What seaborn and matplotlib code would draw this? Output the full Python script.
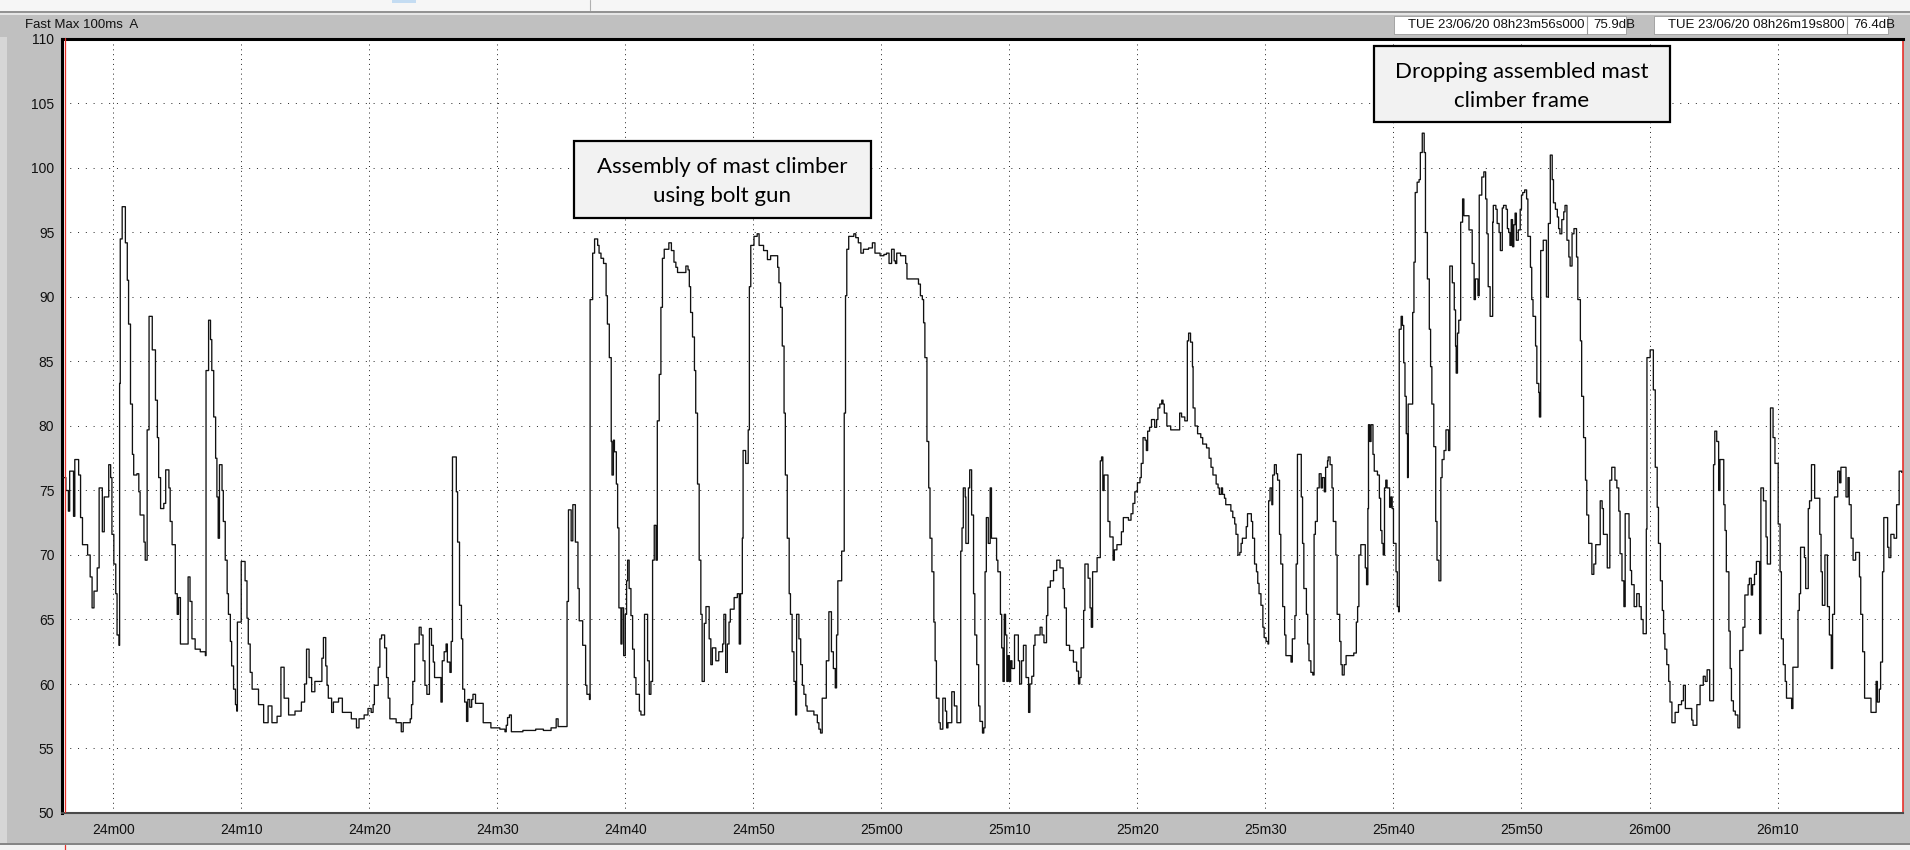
import matplotlib

matplotlib.use("Agg")
import matplotlib.pyplot as plt
import seaborn as sns
from matplotlib.lines import Line2D
from matplotlib.patches import Rectangle

# Fast Max 100ms A level trace, seconds after 08h23m56s000 (breakpoints)
seconds = [
    0.0, 0.3, 0.5, 0.6, 0.9, 1.0, 1.3, 1.45, 1.6, 2.0,
    2.2, 2.35, 2.5, 2.75, 2.9, 3.15, 3.3, 3.65, 3.8, 3.9,
    4.05, 4.2, 4.3, 4.45, 4.5, 4.55, 4.7, 4.95, 5.1, 5.2,
    5.35, 5.5, 5.6, 5.85, 6.0, 6.1, 6.4, 6.5, 6.65, 6.8,
    7.05, 7.3, 7.45, 7.55, 7.7, 7.95, 8.1, 8.35, 8.45, 8.6,
    8.85, 9.0, 9.1, 9.25, 9.85, 10.0, 10.15, 10.4, 10.8, 11.2,
    11.25, 11.45, 11.6, 11.7, 11.85, 12.0, 12.1, 12.2, 12.3, 12.5,
    12.6, 12.75, 12.9, 13.0, 13.15, 13.25, 13.4, 13.55, 13.65, 13.7,
    14.0, 14.3, 14.45, 14.55, 14.7, 14.85, 15.35, 15.75, 16.1, 16.4,
    16.8, 17.1, 17.35, 17.7, 18.2, 18.7, 18.95, 19.1, 19.3, 19.5,
    19.75, 20.3, 20.42, 20.6, 20.7, 20.8, 21.06, 21.2, 21.6, 21.9,
    22.6, 23.0, 23.2, 23.6, 23.9, 24.15, 24.3, 24.4, 24.7, 24.83,
    24.96, 25.2, 25.35, 25.48, 25.61, 26.1, 26.5, 26.65, 27.2, 27.3,
    27.4, 27.55, 27.9, 28.05, 28.2, 28.35, 28.5, 28.7, 28.86, 29.0,
    29.1, 29.38, 29.6, 29.7, 29.85, 30.0, 30.1, 30.3, 30.4, 30.5,
    30.8, 30.9, 31.05, 31.2, 31.3, 31.45, 31.6, 31.7, 31.85, 32.0,
    32.1, 32.3, 32.9, 33.5, 34.2, 34.6, 34.7, 34.8, 34.95, 35.1,
    36.0, 37.0, 37.6, 38.2, 38.6, 38.75, 39.4, 39.45, 39.56, 39.77,
    39.9, 40.1, 40.3, 40.4, 40.67, 40.9, 41.0, 41.2, 41.25, 41.45,
    41.6, 41.84, 41.95, 42.1, 42.3, 42.5, 42.6, 42.75, 42.9, 42.96,
    43.07, 43.15, 43.3, 43.4, 43.5, 43.66, 43.74, 43.87, 44.0, 44.1,
    44.18, 44.3, 44.44, 44.57, 44.7, 44.83, 45.1, 45.22, 45.5, 45.74,
    45.87, 46.0, 46.13, 46.26, 46.4, 46.5, 46.65, 46.78, 46.9, 47.04,
    47.4, 47.6, 47.8, 47.95, 48.08, 48.73, 48.9, 49.0, 49.1, 49.25,
    49.4, 49.5, 49.64, 49.77, 49.9, 50.0, 50.17, 50.3, 50.55, 50.68,
    50.8, 51.07, 51.3, 51.6, 51.7, 51.84, 51.97, 52.1, 52.2, 52.5,
    52.75, 52.9, 53.0, 53.14, 53.2, 53.4, 53.6, 53.69, 53.8, 54.05,
    54.3, 54.45, 54.8, 55.1, 55.35, 55.9, 56.0, 56.13, 56.26, 56.4,
    56.5, 56.65, 56.8, 56.9, 57.03, 57.17, 57.3, 57.38, 57.56, 57.7,
    57.83, 57.95, 58.1, 58.2, 58.73, 59.0, 59.12, 59.25, 59.38, 59.7,
    59.9, 60.1, 60.25, 60.4, 60.5, 60.6, 60.9, 61.1, 61.2, 61.3,
    61.45, 61.85, 62.0, 62.2, 62.4, 62.6, 63.0, 63.3, 63.5, 63.9,
    64.2, 64.4, 64.6, 64.8, 65.0, 65.1, 65.2, 65.5, 65.9, 66.0,
    66.9, 67.05, 67.2, 67.3, 67.4, 67.56, 67.7, 67.8, 67.95, 68.1,
    68.2, 68.3, 68.5, 68.6, 68.8, 69.0, 69.1, 69.2, 69.5, 69.7,
    69.9, 70.2, 70.3, 70.4, 70.55, 70.6, 70.8, 70.9, 71.05, 71.2,
    71.3, 71.45, 71.6, 71.7, 71.9, 72.0, 72.1, 72.2, 72.35, 72.5,
    72.6, 73.0, 73.1, 73.3, 73.4, 73.5, 73.6, 73.7, 73.8, 73.9,
    74.0, 74.1, 74.2, 74.4, 74.7, 74.8, 74.95, 75.1, 75.3, 75.5,
    75.6, 75.75, 75.9, 76.0, 76.4, 76.55, 76.7, 76.9, 77.0, 77.2,
    77.45, 77.7, 77.95, 78.2, 78.3, 78.45, 78.7, 79.0, 79.25, 79.4,
    79.5, 79.6, 79.8, 79.9, 80.15, 80.3, 80.4, 80.5, 80.85, 81.1,
    81.2, 81.3, 81.4, 81.7, 81.85, 82.1, 82.2, 82.4, 82.75, 82.9,
    83.3, 83.5, 83.65, 83.8, 84.0, 84.2, 84.3, 84.44, 84.6, 84.7,
    84.8, 84.95, 85.1, 85.35, 85.5, 85.6, 85.75, 85.9, 86.0, 86.1,
    86.3, 86.6, 87.3, 87.45, 87.7, 87.9, 88.0, 88.15, 88.3, 88.35,
    88.5, 88.7, 88.95, 89.1, 89.4, 89.6, 89.75, 89.9, 90.15, 90.3,
    90.4, 90.55, 90.65, 90.8, 90.9, 91.3, 91.45, 91.6, 91.7, 91.85,
    92.0, 92.1, 92.2, 92.5, 92.6, 92.8, 92.9, 93.0, 93.15, 93.3,
    93.4, 93.5, 93.65, 93.8, 93.9, 94.05, 94.2, 94.25, 94.36, 94.5,
    94.57, 94.7, 94.85, 94.95, 95.1, 95.2, 95.35, 95.5, 95.6, 96.0,
    96.1, 96.3, 96.4, 96.5, 96.8, 96.9, 97.0, 97.2, 97.3, 97.4,
    97.55, 97.7, 97.8, 97.9, 98.05, 98.2, 98.35, 98.45, 98.6, 98.7,
    98.85, 98.9, 99.05, 99.2, 99.3, 99.5, 99.6, 99.8, 99.9, 100.0,
    100.15, 100.3, 100.9, 101.1, 101.2, 101.3, 101.45, 101.8, 101.9, 102.0,
    102.05, 102.15, 102.25, 102.4, 102.5, 102.75, 102.9, 103.0, 103.1, 103.2,
    103.3, 103.4, 103.5, 103.7, 103.8, 103.9, 104.0, 104.2, 104.3, 104.4,
    104.45, 104.6, 104.7, 104.8, 104.9, 105.0, 105.1, 105.15, 105.5, 105.6,
    105.7, 105.85, 106.0, 106.1, 106.25, 106.4, 106.5, 106.65, 106.8, 106.9,
    107.0, 107.15, 107.3, 107.4, 107.55, 107.7, 107.8, 107.95, 108.1, 108.3,
    108.4, 108.6, 108.75, 108.85, 108.9, 109.0, 109.1, 109.25, 109.4, 109.5,
    109.9, 110.15, 110.3, 110.4, 110.6, 110.7, 110.9, 111.06, 111.2, 111.3,
    111.4, 111.55, 111.75, 111.8, 112.0, 112.1, 112.25, 112.35, 112.5, 112.6,
    112.8, 112.9, 113.0, 113.1, 113.2, 113.3, 113.4, 113.5, 113.6, 113.75,
    113.9, 114.0, 114.1, 114.25, 114.4, 114.5, 114.7, 114.8, 114.9, 115.1,
    115.2, 115.35, 115.4, 115.5, 115.7, 115.95, 116.1, 116.25, 116.4, 116.5,
    116.65, 116.8, 116.9, 117.0, 117.15, 117.3, 117.4, 117.55, 117.7, 117.8,
    117.95, 118.1, 118.3, 118.4, 118.6, 118.7, 118.85, 119.0, 119.1, 119.25,
    119.5, 119.65, 119.8, 120.15, 120.3, 120.4, 120.7, 120.9, 121.05, 121.3,
    121.45, 121.6, 121.7, 121.85, 122.0, 122.1, 122.4, 122.5, 122.6, 122.8,
    123.0, 123.2, 123.35, 123.5, 123.75, 123.8, 124.05, 124.3, 124.45, 124.6,
    124.7, 124.85, 125.0, 125.1, 125.2, 125.35, 125.5, 125.6, 125.75, 126.0,
    126.26, 126.5, 126.65, 126.8, 127.3, 127.4, 127.7, 127.95, 128.2, 128.35,
    128.5, 128.7, 129.0, 129.1, 129.25, 129.4, 129.5, 129.8, 129.9, 130.0,
    130.2, 130.3, 130.4, 130.55, 130.7, 130.9, 131.05, 131.3, 131.45, 131.7,
    131.8, 131.95, 132.05, 132.2, 132.35, 132.6, 132.7, 132.9, 133.1, 133.2,
    133.45, 133.65, 133.8, 134.05, 134.2, 134.3, 134.45, 134.6, 134.7, 135.1,
    135.2, 135.6, 135.7, 135.8, 136.1, 136.2, 136.4, 136.5, 136.65, 136.9,
    137.3, 137.4, 137.5, 137.7, 137.9, 138.05, 138.2, 138.3, 138.45, 138.7,
    138.85, 138.95, 139.35, 139.5, 139.6, 139.75, 139.9, 140.1, 140.4, 140.5,
    140.65, 140.8, 141.3, 141.7, 141.8, 141.95, 142.05, 142.2, 142.3, 142.6,
    142.7, 142.85, 143.1, 143.3, 143.5, 143.7,
]
level_db = [
    76.0, 75.0, 73.4, 76.5, 73.0, 77.4, 76.2, 72.9, 70.8, 70.0,
    68.3, 65.9, 67.2, 69.0, 75.2, 71.8, 74.5, 77.0, 76.0, 71.6,
    69.3, 67.0, 63.8, 63.0, 83.3, 94.5, 97.0, 94.2, 91.3, 87.9,
    81.7, 77.8, 76.2, 76.3, 74.9, 73.1, 71.0, 69.6, 79.7, 88.5,
    85.9, 82.0, 79.1, 76.0, 73.6, 74.0, 76.6, 75.2, 72.6, 70.8,
    67.0, 65.4, 66.7, 63.1, 68.3, 66.4, 63.5, 62.7, 62.5, 62.2,
    84.3, 88.2, 86.7, 84.3, 80.7, 77.5, 74.5, 71.3, 77.0, 75.0,
    72.6, 69.6, 67.0, 65.4, 63.3, 61.4, 59.6, 58.4, 57.9, 64.8,
    69.5, 68.0, 65.1, 63.1, 60.9, 59.6, 58.4, 57.0, 58.3, 57.0,
    57.5, 61.3, 58.9, 57.6, 57.9, 58.6, 60.0, 62.7, 60.5, 59.4,
    60.2, 62.0, 63.6, 61.4, 59.9, 58.9, 57.8, 58.6, 58.9, 57.8,
    57.3, 56.6, 57.3, 57.6, 58.1, 57.8, 58.4, 59.9, 61.3, 63.5,
    63.8, 62.8, 60.5, 58.9, 57.3, 57.0, 56.3, 57.0, 57.3, 58.4,
    60.2, 63.1, 64.4, 63.8, 61.8, 59.9, 59.2, 64.3, 63.0, 61.7,
    60.5, 60.5, 58.6, 61.8, 62.5, 63.1, 61.7, 60.9, 63.3, 77.6,
    74.9, 71.0, 66.1, 63.5, 59.6, 58.6, 57.1, 58.8, 58.2, 58.8,
    59.2, 58.5, 57.0, 56.6, 56.5, 56.3, 56.8, 57.4, 57.6, 56.3,
    56.4, 56.5, 56.4, 56.6, 57.3, 56.7, 56.7, 66.4, 73.5, 71.1,
    73.9, 71.0, 67.4, 64.9, 63.0, 59.9, 59.2, 58.8, 89.8, 93.4,
    94.5, 94.0, 93.4, 93.0, 92.6, 90.1, 87.9, 85.3, 78.8, 76.2,
    78.9, 78.0, 75.5, 72.1, 65.9, 63.1, 65.9, 62.2, 65.4, 68.0,
    69.6, 67.4, 65.3, 62.7, 60.5, 59.2, 57.9, 57.6, 65.4, 61.8,
    59.2, 60.2, 69.6, 72.3, 69.6, 80.4, 84.0, 89.2, 93.0, 93.7,
    94.2, 93.6, 92.7, 92.3, 91.9, 92.4, 92.1, 90.8, 88.8, 86.9,
    84.3, 81.0, 75.5, 69.6, 65.4, 60.2, 64.7, 66.0, 63.5, 61.5,
    62.8, 61.8, 62.5, 63.1, 65.4, 60.9, 63.1, 64.8, 65.8, 66.7,
    67.0, 63.1, 67.0, 71.3, 78.1, 77.1, 79.7, 90.8, 94.0, 94.7,
    94.9, 94.0, 93.6, 92.9, 93.2, 92.3, 91.1, 89.2, 86.2, 81.0,
    76.2, 71.3, 67.0, 65.4, 62.5, 60.2, 57.6, 65.4, 63.5, 61.5,
    59.9, 59.2, 58.3, 57.9, 57.6, 57.0, 56.5, 56.2, 58.9, 61.8,
    65.6, 62.5, 61.2, 59.7, 63.8, 68.0, 70.3, 81.0, 90.1, 93.7,
    94.7, 94.9, 94.6, 94.2, 93.4, 93.7, 93.8, 94.2, 93.4, 93.2,
    93.3, 93.4, 92.6, 93.7, 92.8, 92.6, 93.4, 93.2, 92.6, 91.4,
    91.0, 90.1, 89.8, 88.0, 85.3, 78.8, 75.2, 71.3, 68.7, 64.8,
    61.8, 58.9, 57.0, 56.5, 58.9, 57.9, 56.6, 57.0, 59.4, 58.3,
    57.0, 70.3, 72.1, 75.2, 74.5, 70.9, 75.2, 76.6, 73.1, 67.0,
    63.8, 61.5, 58.3, 57.1, 56.2, 56.6, 68.7, 72.9, 70.9, 75.2,
    71.3, 69.6, 68.7, 65.4, 62.8, 60.2, 65.4, 63.8, 60.2, 62.2,
    60.2, 61.8, 61.2, 63.8, 61.8, 60.0, 61.8, 63.0, 60.5, 57.8,
    60.0, 60.6, 63.0, 63.8, 64.4, 63.8, 63.2, 65.3, 67.5, 68.0,
    68.8, 69.6, 69.0, 67.4, 65.9, 63.0, 62.6, 61.7, 61.0, 60.0,
    60.5, 62.8, 65.7, 69.3, 68.2, 65.9, 64.4, 68.7, 69.8, 77.3,
    77.6, 75.0, 76.2, 72.6, 71.4, 69.6, 70.4, 70.8, 71.8, 72.9,
    72.7, 73.2, 74.0, 74.9, 75.6, 76.0, 77.1, 79.1, 78.9, 78.1,
    79.6, 79.9, 80.5, 79.9, 80.5, 81.4, 81.7, 82.0, 81.7, 81.0,
    80.0, 79.7, 81.0, 80.7, 80.4, 86.6, 87.2, 86.5, 84.6, 81.4,
    80.0, 79.4, 79.1, 78.6, 78.3, 77.5, 76.8, 76.2, 75.5, 75.2,
    74.7, 75.2, 74.7, 74.4, 73.9, 73.4, 72.9, 72.4, 71.6, 70.0,
    70.2, 70.9, 71.3, 72.2, 73.2, 73.2, 72.6, 71.3, 69.3, 68.7,
    67.8, 67.0, 66.1, 64.4, 63.6, 63.3, 63.1, 74.2, 75.2, 73.9,
    76.2, 77.0, 76.3, 75.8, 71.6, 69.3, 66.0, 63.8, 62.2, 61.7,
    63.5, 65.3, 69.3, 77.8, 74.5, 70.9, 67.4, 65.4, 63.1, 61.8,
    60.9, 60.7, 71.6, 72.6, 75.2, 76.3, 75.2, 76.0, 74.9, 76.8,
    77.3, 77.6, 77.0, 75.2, 72.6, 70.0, 65.4, 63.3, 61.5, 60.7,
    61.5, 62.2, 62.4, 64.8, 66.0, 70.0, 70.8, 69.0, 67.7, 73.6,
    80.1, 78.8, 80.1, 77.8, 76.5, 76.2, 74.4, 71.9, 70.9, 70.0,
    75.2, 75.8, 75.2, 73.7, 74.5, 73.6, 70.9, 68.7, 66.0, 65.6,
    87.5, 88.5, 87.8, 84.9, 82.3, 79.4, 76.0, 81.7, 88.8, 92.7,
    98.1, 98.9, 99.1, 101.2, 102.7, 101.2, 95.0, 91.4, 87.5, 84.6,
    81.7, 78.4, 72.6, 69.6, 68.0, 76.0, 77.4, 78.1, 79.7, 78.1,
    92.4, 91.1, 89.0, 86.2, 84.1, 87.2, 88.2, 95.8, 97.6, 96.3,
    95.2, 92.6, 89.8, 91.4, 90.1, 97.9, 99.3, 99.7, 97.6, 94.9,
    90.8, 88.5, 95.8, 97.1, 96.8, 95.7, 95.0, 93.6, 96.9, 97.1,
    96.8, 95.3, 95.0, 94.0, 96.0, 93.9, 95.6, 96.5, 94.4, 95.2,
    96.8, 97.9, 98.1, 98.3, 97.6, 94.7, 92.3, 89.8, 88.5, 86.2,
    83.3, 82.6, 80.7, 93.6, 94.4, 90.0, 95.7, 101.0, 99.1, 97.3,
    96.8, 96.2, 95.3, 94.9, 96.0, 96.6, 97.1, 94.4, 93.1, 92.4,
    94.9, 95.3, 93.1, 89.8, 86.6, 82.3, 79.1, 75.8, 73.1, 70.9,
    68.5, 69.3, 70.8, 74.2, 73.6, 71.6, 69.0, 75.8, 76.8, 75.8,
    75.2, 73.4, 70.1, 68.0, 66.0, 73.2, 71.3, 68.8, 67.7, 66.0,
    67.0, 66.0, 65.0, 63.9, 72.0, 85.3, 85.9, 82.8, 76.8, 73.7,
    70.9, 68.0, 65.7, 63.9, 62.7, 61.5, 60.2, 58.6, 57.0, 57.8,
    58.4, 58.7, 59.9, 58.1, 57.2, 56.8, 58.4, 59.9, 60.6, 60.2,
    61.1, 58.7, 77.0, 79.6, 78.8, 75.0, 77.4, 73.9, 71.9, 68.7,
    64.1, 61.2, 58.7, 57.9, 57.6, 56.6, 62.6, 64.4, 66.9, 67.7,
    68.2, 66.9, 67.7, 68.5, 69.5, 63.9, 75.2, 74.2, 71.4, 69.3,
    81.4, 79.1, 77.1, 72.4, 68.7, 63.5, 61.5, 60.2, 58.9, 58.1,
    61.3, 65.7, 67.0, 70.6, 69.8, 67.4, 73.6, 74.2, 77.0, 74.4,
    71.6, 68.7, 66.1, 70.0, 66.0, 63.8, 61.2, 65.4, 74.5, 76.5,
    75.6, 76.8, 74.5, 76.0, 73.9, 71.3, 69.6, 70.2, 68.3, 65.4,
    62.5, 58.9, 57.8, 60.2, 58.6, 59.6, 61.7, 68.7, 72.9, 70.6,
    69.8, 71.6, 71.3, 73.9, 76.5, 76.4,
]

record_length = 143.8
time_labels = ["24m00", "24m10", "24m20", "24m30", "24m40", "24m50", "25m00",
               "25m10", "25m20", "25m30", "25m40", "25m50", "26m00", "26m10"]
first_label_offset = 4  # 24m00 is 4 s after the record start
level_ticks = [50, 55, 60, 65, 70, 75, 80, 85, 90, 95, 100, 105, 110]

channel_name = "Fast Max 100ms  A"
cursor_start = ("TUE 23/06/20 08h23m56s000", "75.9dB")
cursor_end = ("TUE 23/06/20 08h26m19s800", "76.4dB")
notes = ["Assembly of mast climber\nusing bolt gun", "Dropping assembled mast\nclimber frame"]

W, H = 1910, 850
PANEL = "#c0c0c0"


def px_rect(fig, x0, y0, x1, y1, **kw):
    """Rectangle given in image pixels (origin top-left)"""
    r = Rectangle((x0 / W, 1 - y1 / H), (x1 - x0) / W, (y1 - y0) / H,
                  transform=fig.transFigure, **kw)
    fig.add_artist(r)
    return r


def px_line(fig, xs, ys, **kw):
    fig.add_artist(Line2D([x / W for x in xs], [1 - y / H for y in ys],
                          transform=fig.transFigure, **kw))


def main() -> None:
    assert len(seconds) == len(level_db)

    sns.set_theme(style="white")
    plt.rcParams["font.family"] = ["Liberation Sans", "DejaVu Sans"]

    fig = plt.figure(figsize=(W / 100, H / 100), dpi=100, facecolor=PANEL)

    # Window chrome around the graph
    px_rect(fig, 0, 0, W, 11, facecolor="#f6f6f6", edgecolor="none")
    px_line(fig, [0, W], [11.5, 11.5], color="#8a8a8a", lw=1.2)
    px_rect(fig, 0, 12.5, W, 15, facecolor="#e6e6e6", edgecolor="none")
    px_line(fig, [590, 590], [0, 10], color="#b0b0b0", lw=0.8)
    px_rect(fig, 392, 0, 416, 3, facecolor="#c4dcf2", edgecolor="none")
    px_rect(fig, 0, 37, 7, 843, facecolor="#d6d6d6", edgecolor="none")
    px_line(fig, [0, W], [843.5, 843.5], color="#7a7a7a", lw=1.2)
    px_rect(fig, 0, 844.5, W, H, facecolor="#f2f2f2", edgecolor="none")

    fig.text(25 / W, 1 - 25 / H, channel_name, fontsize=9.5, va="center", color="#111111")
    for (x0, x1, xsep, stamp, value) in [(1394, 1626, 1587, *cursor_start),
                                         (1654, 1888, 1847, *cursor_end)]:
        px_rect(fig, x0, 16, x1, 34, facecolor="white", edgecolor="#9a9a9a", lw=0.6)
        px_line(fig, [xsep, xsep], [16, 34], color="#9a9a9a", lw=0.8)
        fig.text((x0 + 14) / W, 1 - 25.5 / H, stamp, fontsize=9.5, va="center", color="#111111")
        fig.text((xsep + 6) / W, 1 - 25.5 / H, value, fontsize=9.5, va="center", color="#111111")

    # Graph area
    ax = fig.add_axes([62 / W, 37 / H, (1903 - 62) / W, (813 - 39) / H])
    ax.set_facecolor("white")
    sns.lineplot(x=seconds, y=level_db, ax=ax, color="#111111", linewidth=0.95,
                 drawstyle="steps-post", estimator=None, zorder=3)

    ax.set_xlim(0, record_length)
    ax.set_ylim(level_ticks[0], level_ticks[-1])
    ax.set_xticks([first_label_offset + 10 * i for i in range(len(time_labels))])
    ax.set_xticklabels(time_labels)
    ax.set_yticks(level_ticks)
    ax.set_yticklabels([str(v) for v in level_ticks])
    ax.set_xlabel("")
    ax.set_ylabel("")
    ax.tick_params(axis="both", direction="out", length=4, width=0.8, color="#303030",
                   labelsize=10, labelcolor="#111111", pad=1.5)
    ax.tick_params(axis="x", pad=3)

    ax.xaxis.grid(True, color="#222222", linestyle=(0, (1, 4)), linewidth=0.7)
    ax.yaxis.grid(True, color="#222222", linestyle=(0, (1, 7)), linewidth=0.7)
    ax.set_axisbelow(True)

    ax.spines["left"].set(color="black", linewidth=2.2)
    ax.spines["top"].set(color="black", linewidth=2.2)
    ax.spines["bottom"].set(color="#4a4a4a", linewidth=1.5)
    ax.spines["right"].set(color="#e8302a", linewidth=1.2)

    # cursor lines
    px_line(fig, [64.5, 64.5], [38, 812], color="#e8302a", lw=0.9, zorder=5)
    px_line(fig, [64.5, 64.5], [845, H], color="#e8302a", lw=0.9)

    # Annotation boxes
    for (x0, y0, x1, y1), note in zip([(0.278, 0.769, 0.4395, 0.868),
                                       (0.7124, 0.893, 0.8736, 0.991)], notes):
        ax.add_patch(Rectangle((x0, y0), x1 - x0, y1 - y0, transform=ax.transAxes,
                               facecolor="#f2f2f2", edgecolor="black", lw=1.6, zorder=6))
        ax.text((x0 + x1) / 2, (y0 + y1) / 2 - 0.003, note, transform=ax.transAxes,
                ha="center", va="center", fontsize=16, family=["Lato", "DejaVu Sans"],
                linespacing=1.55, color="black", zorder=7)

    fig.savefig("out.png", dpi=100, facecolor=PANEL)


if __name__ == "__main__":
    main()
